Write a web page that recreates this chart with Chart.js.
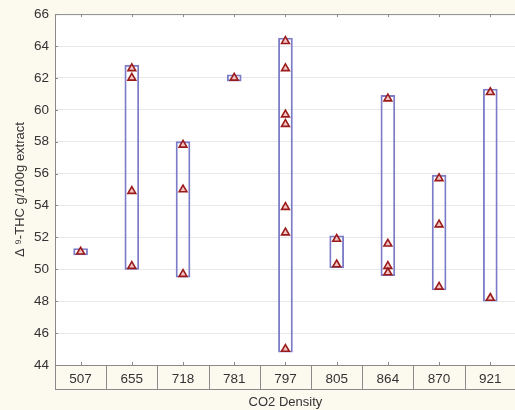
<!DOCTYPE html>
<html>
<head>
<meta charset="utf-8">
<script src="https://cdn.jsdelivr.net/npm/chart.js@4/dist/chart.umd.min.js"></script>
<style>
  html, body { margin: 0; padding: 0; background: #fcf9ef; overflow: hidden; }
  #wrap { width: 515px; height: 410px; overflow: hidden; }
  canvas { display: block; }
</style>
</head>
<body>
<div id="wrap"><canvas id="chart" width="522" height="410"></canvas></div>
<script>
// CO2 densities used for extraction (category axis)
const densities = ['507', '655', '718', '781', '797', '805', '864', '870', '921'];

// Δ9-THC content (g/100 g extract) measured at each density
const thc507 = [51.1];
const thc655 = [62.6, 62.0, 54.9, 50.2];
const thc718 = [57.8, 55.0, 49.7];
const thc781 = [62.0];
const thc797 = [64.3, 62.6, 59.7, 59.1, 53.9, 52.3, 45.0];
const thc805 = [51.9, 50.3];
const thc864 = [60.7, 51.6, 50.2, 49.8];
const thc870 = [55.7, 52.8, 48.9];
const thc921 = [61.1, 48.2];

const thcByDensity = [thc507, thc655, thc718, thc781, thc797, thc805, thc864, thc870, thc921];

// y axis range and tick step
const yMin = 44;
const yMax = 66;
const yStep = 2;

// individual measurements as points on the category axis
const points = [];
thcByDensity.forEach((vals, i) => {
  vals.forEach(v => points.push({ x: densities[i], y: v }));
});

// range boxes enclose every measurement of a density, with a little margin
const boxMargin = 0.2;
const ranges = thcByDensity.map(vals => [Math.min(...vals) - boxMargin, Math.max(...vals) + boxMargin]);

const lineGrey = '#8a8a8a';
const textColor = '#333333';
const fontFamily = '"Liberation Sans", Arial, sans-serif';

// frame pieces: white plot area, top border, small inward ticks and the label table
const framePlugin = {
  id: 'frame',
  beforeDraw(chart) {
    const { ctx, chartArea: a } = chart;
    ctx.save();
    ctx.fillStyle = '#ffffff';
    ctx.fillRect(a.left, a.top, a.right - a.left, a.bottom - a.top);
    ctx.restore();
  },
  afterDraw(chart) {
    const { ctx, chartArea: a, scales } = chart;
    const xs = scales.x, ys = scales.y;
    const n = densities.length;
    const cell = (a.right - a.left) / n;
    const tableBottom = a.bottom + 24;
    ctx.save();
    ctx.strokeStyle = lineGrey;
    ctx.lineWidth = 1;
    ctx.beginPath();
    // top border
    ctx.moveTo(a.left, a.top + 0.5);
    ctx.lineTo(a.right, a.top + 0.5);
    // table bottom
    ctx.moveTo(a.left, tableBottom + 0.5);
    ctx.lineTo(a.right, tableBottom + 0.5);
    // table cell dividers
    for (let i = 0; i <= n; i++) {
      const x = Math.round(xs.getPixelForValue(0) - cell / 2 + i * cell) + 0.5;
      ctx.moveTo(x, a.bottom);
      ctx.lineTo(x, tableBottom);
    }
    // small ticks at category centres (top and bottom)
    for (let i = 0; i < n; i++) {
      const x = Math.round(xs.getPixelForValue(i)) + 0.5;
      ctx.moveTo(x, a.top);
      ctx.lineTo(x, a.top + 3);
      ctx.moveTo(x, a.bottom);
      ctx.lineTo(x, a.bottom - 3);
    }
    // small ticks on the value axis
    for (let v = yMin; v <= yMax; v += yStep) {
      const y = Math.round(ys.getPixelForValue(v)) + 0.5;
      ctx.moveTo(a.left, y);
      ctx.lineTo(a.left + 3, y);
    }
    ctx.stroke();
    ctx.restore();
  }
};

new Chart(document.getElementById('chart'), {
  type: 'bar',
  data: {
    labels: densities,
    datasets: [
      {
        type: 'line',
        data: points,
        showLine: false,
        pointStyle: 'triangle',
        pointRadius: 4.5,
        pointHoverRadius: 4.5,
        pointBackgroundColor: '#f2c4c4',
        pointBorderColor: '#9b1b1b',
        pointBorderWidth: 1.6,
        order: 0
      },
      {
        type: 'bar',
        data: ranges,
        backgroundColor: 'rgba(0,0,0,0)',
        borderColor: '#7c7cc8',
        borderWidth: 1.2,
        borderSkipped: false,
        barThickness: 14,
        order: 1
      }
    ]
  },
  options: {
    responsive: false,
    animation: false,
    devicePixelRatio: 1,
    layout: { padding: { top: 14, left: 0, right: 0, bottom: 0 } },
    plugins: {
      legend: { display: false },
      tooltip: { enabled: false }
    },
    scales: {
      x: {
        type: 'category',
        grid: { display: false },
        border: { display: true, color: lineGrey, width: 1 },
        ticks: {
          color: textColor,
          padding: -2,
          font: { family: fontFamily, size: 13.5 },
          maxRotation: 0
        },
        title: {
          display: true,
          text: 'CO2 Density',
          color: textColor,
          font: { family: fontFamily, size: 13 },
          padding: { top: 0, bottom: 0 }
        },
        afterFit(scale) { scale.height = 45; }
      },
      y: {
        min: yMin,
        max: yMax,
        grid: { color: '#e6e8ea', drawTicks: false },
        border: { display: true, color: lineGrey, width: 1 },
        ticks: {
          stepSize: yStep,
          color: textColor,
          padding: 6,
          font: { family: fontFamily, size: 13.5 }
        },
        title: {
          display: true,
          text: 'Δ ⁹-THC g/100g extract',
          color: textColor,
          font: { family: fontFamily, size: 13 },
          padding: { top: 13, bottom: 0 }
        },
        afterFit(scale) { scale.width = 55; }
      }
    }
  },
  plugins: [framePlugin]
});
</script>
</body>
</html>
